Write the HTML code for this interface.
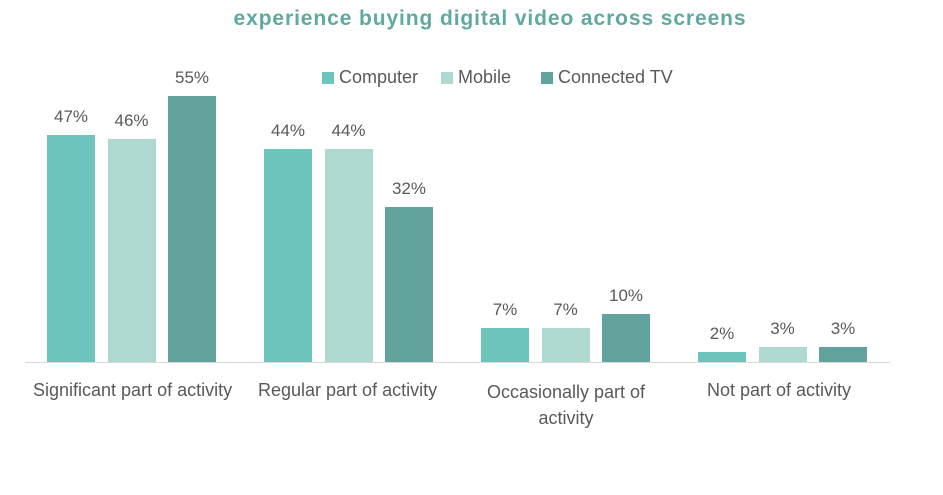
<!DOCTYPE html>
<html><head><style>
body{margin:0;width:943px;height:495px;background:#fff;font-family:"Liberation Sans",sans-serif;position:relative;overflow:hidden}
.t{position:absolute;color:#595959;font-size:18px;white-space:nowrap}
.b{position:absolute;width:48px}
.c{background:#6cc4bc}.m{background:#aed8d0}.v{background:#63a39e}
.lab{position:absolute;text-align:center;width:70px;font-size:17px;color:#595959}
</style></head><body>
<div style="position:absolute;left:0;width:980px;top:7px;text-align:center;color:#5fa9a3;font-weight:bold;font-size:21px;letter-spacing:0.9px">experience buying digital video across screens</div>
<div class="b c" style="left:322px;top:72px;width:12px;height:12px"></div><div class="t" style="left:339px;top:67px">Computer</div>
<div class="b m" style="left:441px;top:72px;width:12px;height:12px"></div><div class="t" style="left:458px;top:67px">Mobile</div>
<div class="b v" style="left:541px;top:72px;width:12px;height:12px"></div><div class="t" style="left:558px;top:67px">Connected TV</div>
<div style="position:absolute;left:25px;width:865px;top:362px;height:1px;background:#d9d9d9"></div>
<div id="bars"></div>
<script>
var d=[[47,46,55],[44,44,32],[7,7,10],[2,3,3]],cl=['c','m','v'],h='';
for(var g=0;g<4;g++)for(var i=0;i<3;i++){var x=47+g*217+i*60.5,ht=d[g][i]*4.84;
h+='<div class="b '+cl[i]+'" style="left:'+x+'px;top:'+(362-ht)+'px;height:'+ht+'px"></div>';
h+='<div class="lab" style="left:'+(x-11)+'px;top:'+(362-ht-28)+'px">'+d[g][i]+'%</div>';}
document.getElementById('bars').innerHTML=h;
</script>
<div class="t" style="left:33px;top:380px">Significant part of activity</div>
<div class="t" style="left:258px;top:380px">Regular part of activity</div>
<div class="t" style="left:466px;top:379px;width:200px;text-align:center;white-space:normal;line-height:26px">Occasionally part of activity</div>
<div class="t" style="left:707px;top:380px">Not part of activity</div>
</body></html>
